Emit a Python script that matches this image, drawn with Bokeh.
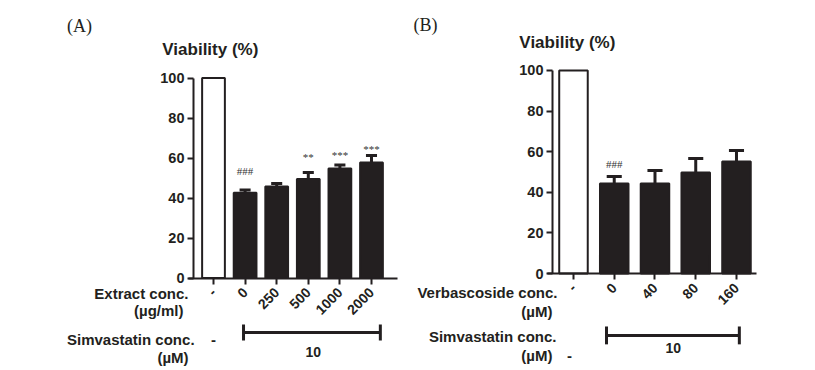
import math
from bokeh.plotting import figure
from bokeh.models import LinearAxis, FixedTicker, Range1d
from bokeh.layouts import row
from bokeh.core.properties import value
from bokeh.embed import file_html
from bokeh.resources import INLINE

# ---------------- data ----------------
a_labels = ["-", "0", "250", "500", "1000", "2000"]
a_values = [100, 42.6, 45.7, 49.5, 54.8, 57.8]
a_errors = [0, 1.4, 1.6, 3.2, 1.7, 3.4]
a_marks = ["", "###", "", "**", "***", "***"]
a_mark_y = [0, 53.5, 0, 60.5, 61.5, 64.5]

b_labels = ["-", "0", "40", "80", "160"]
b_values = [100, 44.3, 44.3, 49.8, 55.2]
b_errors = [0, 3.5, 6.4, 6.9, 5.4]
b_marks = ["", "###", "", "", ""]
b_mark_y = [0, 53.7, 0, 0, 0]

INK = "#231f20"
SANS = "Liberation Sans"
SERIF = "Liberation Serif"


def make_panel(width, xr, yr, labels, vals, errs, marks, mark_y, bw, capw,
               yaxis_x, xbounds):
    p = figure(width=width, height=370, x_range=Range1d(*xr), y_range=Range1d(*yr),
               output_backend="svg", toolbar_location=None,
               x_axis_location=None, y_axis_location=None, min_border=0)
    p.outline_line_color = None
    p.xgrid.visible = False
    p.ygrid.visible = False
    p.background_fill_color = "white"

    xs = list(range(len(labels)))
    fills = ["white"] + [INK] * (len(labels) - 1)
    p.vbar(x=xs, top=vals, bottom=0, width=bw, fill_color=fills,
           line_color=INK, line_width=2)
    # error bars (upper only)
    tops = [v + e for v, e in zip(vals, errs)]
    ex = xs[1:]
    p.segment(x0=ex, y0=vals[1:], x1=ex, y1=tops[1:], line_color=INK, line_width=3)
    p.segment(x0=[x - capw / 2 for x in ex], y0=tops[1:],
              x1=[x + capw / 2 for x in ex], y1=tops[1:], line_color=INK, line_width=3)
    # significance marks
    mx = [x for x, m in zip(xs, marks) if m]
    my = [y for y, m in zip(mark_y, marks) if m]
    mt = [m for m in marks if m]
    p.text(x=mx, y=my, text=mt, text_align="center", text_baseline="middle",
           text_font=value(SERIF), text_font_size="11px", text_color="#333333")

    # axes
    xa = LinearAxis(fixed_location=0, ticker=FixedTicker(ticks=xs),
                    major_label_overrides={i: l for i, l in enumerate(labels)},
                    bounds=xbounds)
    xa.axis_line_width = 2
    xa.axis_line_color = INK
    xa.major_tick_line_width = 2
    xa.major_tick_line_color = INK
    xa.major_tick_out = 6
    xa.major_tick_in = 0
    xa.minor_tick_out = 0
    xa.minor_tick_in = 0
    xa.major_label_orientation = math.pi / 4
    xa.major_label_text_font = SANS
    xa.major_label_text_font_style = "bold"
    xa.major_label_text_font_size = "14px"
    xa.major_label_text_color = INK
    xa.major_label_standoff = 6
    p.add_layout(xa, "below")

    ya = LinearAxis(fixed_location=yaxis_x, ticker=FixedTicker(ticks=[0, 20, 40, 60, 80, 100]),
                    bounds=(0, 100))
    ya.axis_line_width = 2
    ya.axis_line_color = INK
    ya.major_tick_line_width = 2
    ya.major_tick_line_color = INK
    ya.major_tick_out = 6
    ya.major_tick_in = 0
    ya.minor_tick_out = 0
    ya.minor_tick_in = 0
    ya.major_label_text_font = SANS
    ya.major_label_text_font_style = "bold"
    ya.major_label_text_font_size = "14.5px"
    ya.major_label_text_color = INK
    ya.major_label_standoff = 3
    p.add_layout(ya, "left")
    return p


def txt(p, x, y, s, size="15px", align="right", font=SANS, style="bold"):
    p.text(x=[x], y=[y], text=[s], text_align=align, text_baseline="middle",
           text_font=value(font), text_font_size=size, text_font_style=style,
           text_color=INK)


def bracket(p, x0, x1, y, h):
    p.segment(x0=[x0], y0=[y], x1=[x1], y1=[y], line_color=INK, line_width=3)
    p.segment(x0=[x0, x1], y0=[y - h, y - h], x1=[x0, x1], y1=[y + h, y + h],
              line_color=INK, line_width=3)


# ---------------- panel A ----------------
pA = make_panel(400, (-6.741, 5.918), (-46.25, 138.75), a_labels, a_values, a_errors,
                a_marks, a_mark_y, 0.72, 0.35, -0.633, (-0.79, 5.82))
txt(pA, -4.24, 126, "(A)", size="18px", align="center", font=SERIF, style="normal")
txt(pA, -0.1, 114.25, "Viability (%)", size="17px", align="center")
txt(pA, -0.79, -7.75, "Extract conc.")
txt(pA, -0.95, -16.25, "(µg/ml)")
txt(pA, -0.6, -30.75, "Simvastatin conc.")
txt(pA, -0.79, -39.75, "(µM)")
txt(pA, 0, -30.75, "-", align="center")
bracket(pA, 0.95, 5.28, -27.25, 4)
txt(pA, 3.16, -36.75, "10", size="14px", align="center")

# ---------------- panel B ----------------
pB = make_panel(415, (-4.245, 5.939), (-47.78, 134.48), b_labels, b_values, b_errors,
                b_marks, b_mark_y, 0.7, 0.37, -0.515, (-0.638, 4.49))
txt(pB, -3.63, 122.2, "(B)", size="18px", align="center", font=SERIF, style="normal")
txt(pB, -0.15, 113.8, "Viability (%)", size="17px", align="center")
txt(pB, -0.393, -9.36, "Verbascoside conc.")
txt(pB, -0.515, -18.7, "(µM)")
txt(pB, -0.417, -31.0, "Simvastatin conc.")
txt(pB, -0.515, -40.4, "(µM)")
txt(pB, -0.1, -40.4, "-", align="center")
bracket(pB, 0.81, 4.07, -30.5, 4.4)
txt(pB, 2.45, -36.9, "10", size="14px", align="center")

layout = row(pA, pB)
open("out.html", "w").write(file_html(layout, INLINE))
